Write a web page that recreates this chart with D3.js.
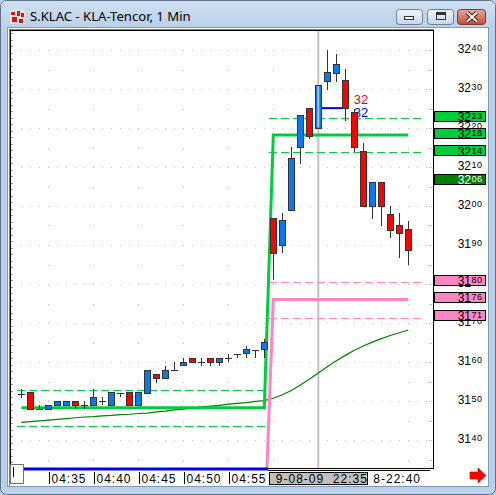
<!DOCTYPE html>
<html>
<head>
<meta charset="utf-8">
<script src="https://cdn.jsdelivr.net/npm/d3@7"></script>
<style>
  html, body { margin: 0; padding: 0; background: #b9d1ea; }
  svg { display: block; }
  text { font-family: "Liberation Sans", Arial, sans-serif; }
</style>
</head>
<body>
<svg id="chart" width="496" height="495"></svg>
<script>
// candles, one per minute (two sessions)
const opens  = [3151.7, 3152.1, 3148.0, 3147.9, 3148.9, 3148.9, 3149.9, 3148.9, 3148.9, 3149.9, 3148.9, 3152.1, 3152.1, 3148.9,
                3152.0, 3156.8, 3155.8, 3157.9, 3159.0, 3161.0, 3160.0, 3161.0, 3160.0, 3161.0, 3162.1, 3162.1, 3163.1, 3163.1,
                3196.8, 3189.8, 3198.8, 3215.0, 3225.1, 3219.9, 3231.9, 3234.0, 3232.1, 3224.0, 3214.1, 3199.8, 3206.1, 3197.9, 3195.1, 3194.1];
const highs  = [3153.0, 3152.1, 3148.9, 3148.9, 3149.9, 3149.9, 3149.9, 3149.9, 3153.0, 3151.0, 3152.1, 3152.1, 3152.1, 3152.1,
                3157.9, 3156.8, 3159.0, 3160.0, 3161.0, 3161.0, 3161.0, 3161.0, 3161.0, 3162.1, 3162.1, 3164.2, 3163.1, 3165.8,
                3196.8, 3198.1, 3215.2, 3223.1, 3225.1, 3231.0, 3240.0, 3239.0, 3235.1, 3225.0, 3216.1, 3206.1, 3206.1, 3200.0, 3198.1, 3196.2];
const lows   = [3150.8, 3147.9, 3148.0, 3147.9, 3148.9, 3148.9, 3147.9, 3147.9, 3148.9, 3148.9, 3148.9, 3151.0, 3148.9, 3148.9,
                3152.0, 3154.7, 3155.8, 3157.9, 3159.0, 3159.9, 3159.0, 3159.0, 3159.0, 3160.0, 3161.0, 3161.0, 3161.0, 3161.0,
                3181.0, 3187.9, 3198.8, 3210.8, 3217.1, 3219.9, 3229.7, 3231.9, 3221.8, 3213.9, 3199.8, 3196.7, 3194.9, 3191.9, 3186.7, 3184.9];
const closes = [3151.7, 3147.9, 3148.0, 3148.9, 3149.9, 3149.9, 3148.9, 3148.9, 3151.0, 3149.9, 3152.1, 3152.1, 3148.9, 3152.1,
                3157.9, 3155.8, 3157.9, 3157.9, 3160.0, 3159.9, 3160.0, 3160.0, 3161.0, 3161.0, 3162.1, 3163.1, 3163.1, 3165.0,
                3187.9, 3196.2, 3212.1, 3223.1, 3217.8, 3231.0, 3234.2, 3236.2, 3225.0, 3215.1, 3199.8, 3206.1, 3199.8, 3193.8, 3193.0, 3188.7];

// moving average (thin dark green)
const maLine = [3144.5, 3144.7, 3144.9, 3145.1, 3145.3, 3145.5, 3145.7, 3145.9, 3146.0, 3146.2, 3146.3, 3146.5, 3146.6, 3146.8,
                3146.9, 3147.2, 3147.4, 3147.7, 3147.9, 3148.2, 3148.5, 3148.7, 3148.9, 3149.2, 3149.4, 3149.6, 3149.9, 3150.1,
                3150.7, 3151.6, 3152.7, 3154.1, 3155.6, 3157.2, 3158.8, 3160.3, 3161.7, 3163.0, 3164.1, 3165.1, 3166.0, 3166.8, 3167.5, 3168.2];

// thick step lines
const greenLine = [3148.3, 3148.3, 3148.3, 3148.3, 3148.3, 3148.3, 3148.3, 3148.3, 3148.3, 3148.3, 3148.3, 3148.3, 3148.3, 3148.3,
                   3148.3, 3148.3, 3148.3, 3148.3, 3148.3, 3148.3, 3148.3, 3148.3, 3148.3, 3148.3, 3148.3, 3148.3, 3148.3, 3148.3,
                   3218.2, 3218.2, 3218.2, 3218.2, 3218.2, 3218.2, 3218.2, 3218.2, 3218.2, 3218.2, 3218.2, 3218.2, 3218.2, 3218.2, 3218.2, 3218.2];
const pinkLine  = [3115.0, 3115.0, 3115.0, 3115.0, 3115.0, 3115.0, 3115.0, 3115.0, 3115.0, 3115.0, 3115.0, 3115.0, 3115.0, 3115.0,
                   3115.0, 3115.0, 3115.0, 3115.0, 3115.0, 3115.0, 3115.0, 3115.0, 3115.0, 3115.0, 3115.0, 3115.0, 3115.0, 3115.0,
                   3176.0, 3176.0, 3176.0, 3176.0, 3176.0, 3176.0, 3176.0, 3176.0, 3176.0, 3176.0, 3176.0, 3176.0, 3176.0, 3176.0, 3176.0, 3176.0];

const sessions = [[0, 27], [28, 43]];
const greenDash1 = [3152.8, 3143.5];
const greenDash2 = [3222.6, 3213.8];
const pinkDash2  = [3180.4, 3171.4];

// boxes on the price axis
const levelValues = [3222.4, 3218.2, 3213.6, 3206.4, 3180.4, 3176.0, 3171.4];
const levelLabels = ["3223", "3218", "3214", "3206", "3180", "3176", "3171"];
const levelKinds  = ["g", "g", "g", "dg", "p", "p", "p"];

const priceTicks = [3140, 3150, 3160, 3170, 3180, 3190, 3200, 3210, 3220, 3230, 3240];
const timeTickIdx = [3, 8, 13, 18, 23];
const timeTickLabels = ["04:35", "04:40", "04:45", "04:50", "04:55"];
const sessionLabel = "9-08-09  22:35";
const lateLabel = "8-22:40";
const lateIdx = 38;
const gridIdx = [3, 8, 13, 18, 23, 28, 43];
const cursorIdx = 33;

// blue marker and its notes
const markFrom = 33, markTo = 36, markValue = 3225.1;
const noteTexts = ["32", "32"];
const noteValues = [3227.2, 3223.9];
const noteColors = ["#ff0000", "#0000ff"];
const noteIdx = 37;

const GREEN = "#00cc3c", DARKGREEN = "#008000", PINK = "#ff84c4", BLUE = "#0a78f0", RED = "#ff0000";

const svg = d3.select("#chart");
const plot = {left: 10, top: 30, right: 433, bottom: 468};

const x = d3.scaleLinear().domain([0, 43]).range([21.3, 408.3]);
const y = d3.scaleLinear().domain([3140, 3240]).range([440, 50]);

// ---- window frame ----
const defs = svg.append("defs");
const tg = defs.append("linearGradient").attr("id", "titleGrad").attr("x1", 0).attr("y1", 0).attr("x2", 0).attr("y2", 1);
tg.append("stop").attr("offset", "0%").attr("stop-color", "#cfe0f2");
tg.append("stop").attr("offset", "100%").attr("stop-color", "#b9d1ea");
const bg = defs.append("linearGradient").attr("id", "btnGrad").attr("x1", 0).attr("y1", 0).attr("x2", 0).attr("y2", 1);
bg.append("stop").attr("offset", "0%").attr("stop-color", "#f2f6fb");
bg.append("stop").attr("offset", "100%").attr("stop-color", "#c5d5e8");
const cg = defs.append("linearGradient").attr("id", "closeGrad").attr("x1", 0).attr("y1", 0).attr("x2", 0).attr("y2", 1);
cg.append("stop").attr("offset", "0%").attr("stop-color", "#e9a99a");
cg.append("stop").attr("offset", "100%").attr("stop-color", "#c4493a");
defs.append("clipPath").attr("id", "plotClip").append("rect")
  .attr("x", plot.left + 1).attr("y", plot.top + 1)
  .attr("width", plot.right - plot.left - 1).attr("height", plot.bottom - plot.top - 1);

svg.append("rect").attr("x", 0.5).attr("y", 0.5).attr("width", 495).attr("height", 494).attr("rx", 6)
  .attr("fill", "#b9d1ea").attr("stroke", "#5f7287");
svg.append("rect").attr("x", 1).attr("y", 1).attr("width", 494).attr("height", 26).attr("rx", 5)
  .attr("fill", "url(#titleGrad)");

// icon
const icon = svg.append("g");
icon.append("rect").attr("x", 10).attr("y", 10).attr("width", 15).attr("height", 14).attr("fill", "#e6e6e6");
[[11, 12, 4, 3], [17, 11, 3, 5], [21, 13, 3, 4], [12, 17, 5, 5], [19, 19, 4, 4]].forEach(r => {
  icon.append("rect").attr("x", r[0]).attr("y", r[1]).attr("width", r[2]).attr("height", r[3]).attr("fill", "#e01010");
});

svg.append("text").attr("x", 30).attr("y", 20.5)
  .style("font-family", "'Noto Sans', sans-serif").attr("font-size", 13.1).attr("fill", "#000")
  .text("S.KLAC - KLA-Tencor, 1 Min");

// caption buttons
svg.append("rect").attr("x", 396.5).attr("y", 9.5).attr("width", 26).attr("height", 15).attr("rx", 3)
  .attr("fill", "url(#btnGrad)").attr("stroke", "#6b7f96");
svg.append("rect").attr("x", 404.5).attr("y", 16.5).attr("width", 9).attr("height", 3)
  .attr("fill", "#fff").attr("stroke", "#333");
svg.append("rect").attr("x", 427.5).attr("y", 9.5).attr("width", 26).attr("height", 15).attr("rx", 3)
  .attr("fill", "url(#btnGrad)").attr("stroke", "#6b7f96");
svg.append("rect").attr("x", 436.5).attr("y", 12.5).attr("width", 9).attr("height", 7)
  .attr("fill", "none").attr("stroke", "#333").attr("stroke-width", 1);
svg.append("rect").attr("x", 437).attr("y", 13).attr("width", 8).attr("height", 2).attr("fill", "#333");
svg.append("rect").attr("x", 457.5).attr("y", 9.5).attr("width", 28).attr("height", 15).attr("rx", 3)
  .attr("fill", "url(#closeGrad)").attr("stroke", "#7d3a30");
svg.append("path").attr("d", "M467,12.5 L477,21.5 M477,12.5 L467,21.5")
  .attr("stroke", "#4a1a14").attr("stroke-width", 4).attr("fill", "none");
svg.append("path").attr("d", "M467,12.5 L477,21.5 M477,12.5 L467,21.5")
  .attr("stroke", "#fff").attr("stroke-width", 2).attr("fill", "none");

// client area
svg.append("rect").attr("x", 7.5).attr("y", 27.5).attr("width", 481).attr("height", 459)
  .attr("fill", "#fff").attr("stroke", "#8499b0");

// ---- plot ----
svg.append("line").attr("x1", 9.5).attr("x2", 9.5).attr("y1", 29).attr("y2", 486).attr("stroke", "#808080");
svg.append("line").attr("x1", 9).attr("x2", 434).attr("y1", 29.5).attr("y2", 29.5).attr("stroke", "#808080");

const grid = svg.append("g");
grid.selectAll("line.h").data(priceTicks).enter().append("line")
  .attr("x1", 21).attr("x2", 431)
  .attr("y1", d => Math.round(y(d)) + 0.5).attr("y2", d => Math.round(y(d)) + 0.5)
  .attr("stroke", "#c4c4c4").attr("stroke-dasharray", "1,8");
const dotLevels = d3.range(3135, 3246, 5);
gridIdx.forEach(i => {
  grid.selectAll(null).data(dotLevels).enter().append("rect")
    .attr("x", Math.round(x(i))).attr("y", d => Math.round(y(d)))
    .attr("width", 1).attr("height", 1).attr("fill", "#b8b8b8");
});
// small edge ticks
grid.selectAll("line.lt").data(d3.range(3134, 3245, 5 / 3).map(v => v + 1 / 3)).enter().append("line")
  .attr("x1", 11).attr("x2", 13)
  .attr("y1", d => Math.round(y(d)) + 0.5).attr("y2", d => Math.round(y(d)) + 0.5)
  .attr("stroke", "#9a9a9a");
grid.selectAll("line.rt").data(dotLevels).enter().append("line")
  .attr("x1", 429).attr("x2", 433)
  .attr("y1", d => Math.round(y(d)) + 0.5).attr("y2", d => Math.round(y(d)) + 0.5)
  .attr("stroke", "#b0b0b0").attr("stroke-dasharray", "1,1");

const pg = svg.append("g").attr("clip-path", "url(#plotClip)");

// cursor line
pg.append("line").attr("x1", x(cursorIdx)).attr("x2", x(cursorIdx))
  .attr("y1", plot.top).attr("y2", plot.bottom)
  .attr("stroke", "#c0c0c0").attr("stroke-width", 2);

// dashed bands
const dashSets = [[0, greenDash1, "#00d040"], [1, greenDash2, "#00d040"], [1, pinkDash2, PINK]];
dashSets.forEach(([s, vals, col]) => {
  const x1 = Math.round(x(sessions[s][0]) - 4.5);
  const x2 = Math.round(s === 0 ? x(sessions[s][1]) + 0.5 : x(sessions[s][1]) + 12.5);
  pg.selectAll(null).data(vals).enter().append("line")
    .attr("x1", x1).attr("x2", x2)
    .attr("y1", d => Math.round(y(d)) + 0.5).attr("y2", d => Math.round(y(d)) + 0.5)
    .attr("stroke", col).attr("stroke-width", 1).attr("stroke-dasharray", "8,4")
    .attr("shape-rendering", "crispEdges");
});

const line = d3.line().x((d, i) => x(i)).y(d => y(d));
pg.append("path").datum(maLine).attr("d", line)
  .attr("fill", "none").attr("stroke", DARKGREEN).attr("stroke-width", 1.2);
pg.append("path").datum(pinkLine).attr("d", line)
  .attr("fill", "none").attr("stroke", PINK).attr("stroke-width", 3);
pg.append("path").datum(greenLine).attr("d", line)
  .attr("fill", "none").attr("stroke", GREEN).attr("stroke-width", 3);

// blue marker
pg.append("line").attr("x1", x(markFrom)).attr("x2", x(markTo))
  .attr("y1", y(markValue)).attr("y2", y(markValue))
  .attr("stroke", "#0000ff").attr("stroke-width", 2);

// notes (under the candles, like the original)
pg.selectAll("text.note").data(noteTexts).enter().append("text")
  .attr("x", x(noteIdx) - 0.5).attr("y", (d, i) => y(noteValues[i]) + 4.5)
  .attr("font-size", 13).attr("fill", (d, i) => noteColors[i]).text(d => d);

// candles
const candles = d3.range(opens.length).map(i => ({i, o: opens[i], h: highs[i], l: lows[i], c: closes[i]}));
const cg2 = pg.append("g").attr("shape-rendering", "crispEdges");
cg2.selectAll("line.wick").data(candles).enter().append("line")
  .attr("x1", d => Math.round(x(d.i)) + 0.5).attr("x2", d => Math.round(x(d.i)) + 0.5)
  .attr("y1", d => y(d.h)).attr("y2", d => y(d.l))
  .attr("stroke", "#333");
cg2.selectAll("rect.body").data(candles.filter(d => d.o !== d.c)).enter().append("rect")
  .attr("x", d => Math.round(x(d.i)) - 2.5)
  .attr("y", d => y(Math.max(d.o, d.c)))
  .attr("width", 6)
  .attr("height", d => Math.max(1, y(Math.min(d.o, d.c)) - y(Math.max(d.o, d.c))))
  .attr("fill", d => d.c > d.o ? BLUE : RED)
  .attr("stroke", "#333");
cg2.selectAll("line.doji").data(candles.filter(d => d.o === d.c)).enter().append("line")
  .attr("x1", d => Math.round(x(d.i)) - 3).attr("x2", d => Math.round(x(d.i)) + 4)
  .attr("y1", d => Math.round(y(d.o)) + 0.5).attr("y2", d => Math.round(y(d.o)) + 0.5)
  .attr("stroke", "#333").attr("stroke-width", 1.5);

// cursor line passes over its own candle
pg.append("line").attr("x1", x(cursorIdx)).attr("x2", x(cursorIdx))
  .attr("y1", y(highs[cursorIdx]) + 1).attr("y2", y(lows[cursorIdx]) - 1)
  .attr("stroke", "#c0c0c0").attr("stroke-width", 2);

// plot border
svg.append("rect").attr("x", plot.left + 0.5).attr("y", plot.top + 0.5)
  .attr("width", plot.right - plot.left).attr("height", plot.bottom - plot.top)
  .attr("fill", "none").attr("stroke", "#000");
svg.append("line").attr("x1", 268).attr("x2", 430).attr("y1", 470.5).attr("y2", 470.5).attr("stroke", "#000");
svg.append("rect").attr("x", plot.left).attr("y", 467.5).attr("width", 258).attr("height", 3).attr("fill", "#0000ff");

// ---- price axis ----
const ax = svg.append("g");
function splitLabel(g, label, yy, color) {
  g.append("text").attr("x", 471).attr("y", yy + 2.8).attr("text-anchor", "end")
    .attr("font-size", 12).attr("fill", color).text(label.slice(0, 2));
  g.append("text").attr("x", 471.5).attr("y", yy + 0.6)
    .attr("font-size", 9).attr("letter-spacing", 0.6).attr("fill", color).text(label.slice(2));
}
priceTicks.forEach(v => splitLabel(ax, String(v), y(v), "#000"));
levelValues.forEach((v, i) => {
  const k = levelKinds[i];
  const fill = k === "g" ? GREEN : k === "dg" ? DARKGREEN : PINK;
  ax.append("rect").attr("x", 434.5).attr("y", Math.round(y(v) - 7.5) + 0.5)
    .attr("width", 51).attr("height", 10).attr("fill", fill).attr("stroke", "#000");
  splitLabel(ax, levelLabels[i], y(v), k === "dg" ? "#fff" : "#000");
});

// ---- time axis ----
const tx = svg.append("g");
timeTickIdx.forEach((i, k) => {
  const xx = Math.round(x(i)) + 1.5;
  tx.append("line").attr("x1", xx).attr("x2", xx).attr("y1", 472).attr("y2", 484).attr("stroke", "#000");
  tx.append("text").attr("x", xx + 2).attr("y", 482.5).attr("font-size", 12)
    .attr("letter-spacing", 1).text(timeTickLabels[k]);
});
const sx = (x(sessions[0][1]) + x(sessions[1][0])) / 2;
tx.append("rect").attr("x", Math.round(sx) + 0.5).attr("y", 472.5).attr("width", 98).attr("height", 12)
  .attr("fill", "#c0c0c0").attr("stroke", "#000");
tx.append("text").attr("x", sx + 7).attr("y", 482.5).attr("font-size", 12)
  .attr("letter-spacing", 1).attr("xml:space", "preserve").text(sessionLabel);
tx.append("text").attr("x", x(lateIdx) + 10).attr("y", 482.5).attr("font-size", 12)
  .attr("letter-spacing", 1).text(lateLabel);

// scroll thumb
svg.append("rect").attr("x", 10.5).attr("y", 464.5).attr("width", 13).attr("height", 19)
  .attr("fill", "#fff").attr("stroke", "#707070");
svg.append("line").attr("x1", 13.5).attr("x2", 13.5).attr("y1", 467).attr("y2", 477).attr("stroke", "#000");

// red arrow
svg.append("path").attr("d", "M470,472 H478 V468 L486,475.5 L478,483 V479 H470 Z")
  .attr("fill", "#ff0000").attr("stroke", "#b00000").attr("stroke-width", 0.6);
</script>
</body>
</html>
